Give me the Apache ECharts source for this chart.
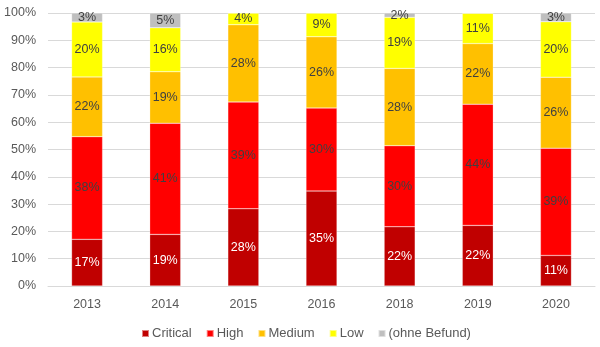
<!DOCTYPE html>
<html><head><meta charset="utf-8">
<script src="https://cdn.jsdelivr.net/npm/echarts@6/dist/echarts.min.js"></script>
<style>html,body{margin:0;padding:0;background:#fff}#c{width:600px;height:347px}</style>
</head><body><div id="c"></div>
<script>
const years = ['2013','2014','2015','2016','2018','2019','2020'];
const critical = [17.1, 18.9, 28.3, 34.8, 21.7, 22.2, 11.2];
const high     = [37.6, 40.7, 39.1, 30.4, 29.7, 44.4, 39.3];
const medium   = [21.9, 18.9, 28.3, 26.1, 28.3, 22.2, 26.0];
const low      = [20.1, 16.1, 4.3, 8.7, 18.7, 11.1, 20.3];
const ohne     = [3.3, 5.4, 0, 0, 1.6, 0, 3.2];
const yTicks = [0,10,20,30,40,50,60,70,80,90,100];

const font = 'Liberation Sans, Arial, sans-serif';
function mk(name, data, color, labelColor){
  return {
    name, type:'bar', stack:'s', data, barWidth:31,
    itemStyle:{color, borderColor:'rgba(255,255,255,0.5)', borderWidth:0.5},
    label:{show:true, position:'inside', color:labelColor, fontSize:12.5, fontFamily:font,
      formatter:p=> p.value>0 ? Math.round(p.value)+'%' : ''}
  };
}
const chart = echarts.init(document.getElementById('c'), null, {renderer:'canvas'});
chart.setOption({
  animation:false,
  grid:{left:48, right:5, top:13, bottom:61, containLabel:false},
  xAxis:{type:'category', data:years,
    axisLine:{lineStyle:{color:'#d9d9d9'}}, axisTick:{show:false},
    axisLabel:{color:'#595959', fontSize:12.5, fontFamily:font, margin:12}},
  yAxis:{type:'value', min:0, max:100, interval:10,
    axisLabel:{color:'#595959', fontSize:12.5, fontFamily:font, margin:12, formatter:v=>v+'%'},
    splitLine:{lineStyle:{color:'#d9d9d9'}}, axisLine:{show:false}, axisTick:{show:false}},
  legend:{bottom:2, left:136, itemWidth:7, itemHeight:7, itemGap:14, icon:'rect',
    textStyle:{color:'#595959', fontSize:13, fontFamily:font, padding:[0,0,0,-2]},
    data:['Critical','High','Medium','Low','(ohne Befund)']},
  series:[
    mk('Critical', critical, '#C00000', '#ffffff'),
    mk('High', high, '#FF0000', '#404040'),
    mk('Medium', medium, '#FFC000', '#404040'),
    mk('Low', low, '#FFFF00', '#404040'),
    mk('(ohne Befund)', ohne, '#BFBFBF', '#404040')
  ]
});
</script></body></html>
